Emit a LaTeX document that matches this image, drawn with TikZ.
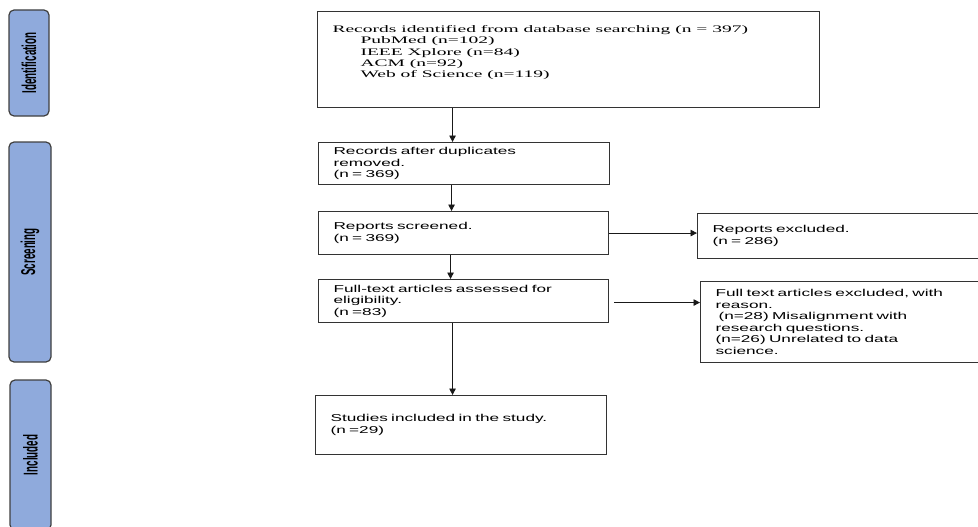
\documentclass[tikz,border=0pt]{standalone}
\usepackage{fontspec}
\setmainfont{Liberation Serif}
\newfontfamily\serifbox[FakeStretch=1.95]{Liberation Serif}
\newfontfamily\sansbox[FakeStretch=1.72]{Liberation Sans}
\newfontfamily\phasefont[FakeStretch=0.49]{Liberation Sans}
\usepackage{tikz}
\usetikzlibrary{positioning,arrows.meta}
\definecolor{phaseblue}{RGB}{143,170,220}
\tikzset{
  % --- phase bars on the left ------------------------------------------------
  phase/.style={rectangle,rounded corners=5pt,draw=black!75,fill=phaseblue,
                line width=1.2pt,rotate=90,inner sep=0pt,
                font=\phasefont\bfseries\fontsize{20}{20}\selectfont},
  % --- record boxes ----------------------------------------------------------
  stage/.style={rectangle,draw=black!80,line width=1.1pt,anchor=north west,
                inner xsep=15pt,inner ysep=2pt,align=left,
                font=\sansbox\fontsize{10}{11.5}\selectfont},
  srcbox/.style={stage,inner ysep=0pt,
                 font=\serifbox\fontsize{10}{11.3}\selectfont},
  % --- connectors ------------------------------------------------------------
  flow/.style={-{Triangle[length=6.5pt,width=6.5pt]},black!90,line width=0.9pt},
}

\begin{document}
\begin{tikzpicture}[x=1pt,y=-1pt]
  \useasboundingbox (0,0) rectangle (978,527);
  \clip (0,0) rectangle (978,527);

  % phases
  \node[phase,minimum width=106pt,minimum height=40pt] (ident)  at (29,63)    {Identification};
  \node[phase,minimum width=220pt,minimum height=42pt] (screen) at (30,252)   {Screening};
  \node[phase,minimum width=150pt,minimum height=41pt] (incl)   at (30.5,455) {Included};

  % main column
  \node[srcbox] (found) at (317,11) {\parbox[c][96pt][t]{472pt}{\vspace*{14pt}%
    Records identified from database searching (n = 397)\\
    \hspace*{28pt}PubMed (n=102)\\
    \hspace*{28pt}IEEE Xplore (n=84)\\
    \hspace*{28pt}ACM (n=92)\\
    \hspace*{28pt}Web of Science (n=119)}};
  \node[stage,minimum width=291pt,minimum height=42pt,text width=261pt] (dedup) at (318,142)
    {Records after duplicates\\removed.\\(n = 369)};
  \node[stage,minimum width=290pt,minimum height=43pt,text width=260pt] (screened) at (318,211)
    {Reports screened.\\(n = 369)};
  \node[stage,minimum width=290pt,minimum height=43pt,text width=260pt] (fulltext) at (318,279)
    {Full-text articles assessed for\\eligibility.\\(n =83)};
  \node[stage,minimum width=291pt,minimum height=59pt,text width=261pt] (studies) at (315,395)
    {Studies included in the study.\\(n =29)};

  % exclusions
  \node[stage,minimum width=300pt,minimum height=45pt,text width=270pt] (excluded) at (697,213)
    {Reports excluded.\\(n = 286)};
  \node[stage,minimum width=300pt,minimum height=81pt,text width=270pt] (reasons) at (700,281)
    {Full text articles excluded, with\\reason.\\\hspace*{3pt}(n=28) Misalignment with\\
     research questions.\\(n=26) Unrelated to data\\science.};

  % flow
  \draw[flow] ([xshift=-11.5pt]dedup.north |- found.south) -- ([xshift=-11.5pt]dedup.north);
  \draw[flow] ([xshift=-12pt]screened.north |- dedup.south) -- ([xshift=-12pt]screened.north);
  \draw[flow] ([xshift=-13pt]fulltext.north |- screened.south) -- ([xshift=-13pt]fulltext.north);
  \draw[flow] ([xshift=-8.5pt]studies.north |- fulltext.south) -- ([xshift=-8.5pt]studies.north);
  \draw[flow] (screened.east) -- (screened.east -| excluded.west);
  \draw[flow] ([xshift=5pt,yshift=-1.5pt]fulltext.east) -- ([yshift=-1.5pt]fulltext.east -| reasons.west);
\end{tikzpicture}
\end{document}
